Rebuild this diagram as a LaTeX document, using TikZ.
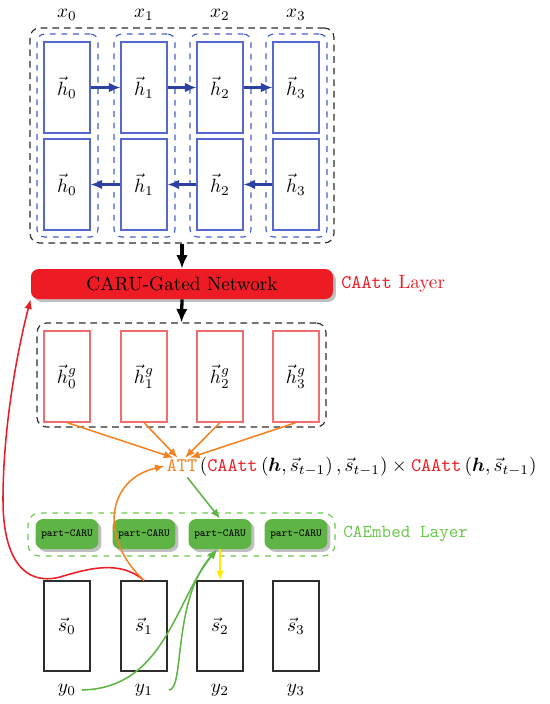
\documentclass[tikz,border=0pt]{standalone}
\usepackage{amsmath,amssymb}
\usetikzlibrary{arrows.meta,shadows}
\definecolor{cblue}{RGB}{85,105,205}
\definecolor{cbluedark}{RGB}{45,65,165}
\definecolor{cbluedash}{RGB}{70,95,205}
\definecolor{cred}{RGB}{237,28,36}
\definecolor{clred}{RGB}{240,110,110}
\definecolor{corange}{RGB}{245,130,32}
\definecolor{cgreen}{RGB}{95,180,70}
\definecolor{cgreenl}{RGB}{105,200,75}
\definecolor{cyellow}{RGB}{255,235,0}
\definecolor{cgray}{RGB}{45,45,45}
\begin{document}
\begin{tikzpicture}[x=0.52pt,y=-0.52pt,
  hbox/.style={draw=cblue, line width=0.6pt, minimum width=23.92pt, minimum height=47.32pt, inner sep=0},
  gbox/.style={draw=clred, line width=0.6pt, minimum width=23.92pt, minimum height=47.32pt, inner sep=0},
  sbox/.style={draw=cgray, line width=0.6pt, minimum width=23.92pt, minimum height=46.8pt, inner sep=0},
  coldash/.style={draw=cbluedash, dashed, rounded corners=4pt, line width=0.6pt, minimum width=31.72pt, minimum height=105.56pt, inner sep=0},
  blkdash/.style={draw=cgray, dash pattern=on 3.5pt off 2.5pt, rounded corners=5pt, line width=0.6pt, inner sep=0},
  grdash/.style={draw=cgreenl, dashed, rounded corners=6pt, line width=0.6pt, inner sep=0},
  harrow/.style={-{Latex[length=6pt,width=5pt]}, draw=cbluedark, line width=1.1pt},
  bigarrow/.style={-{Latex[length=7pt,width=6pt]}, line width=1.7pt, black},
  oarrow/.style={-{Latex[length=5pt,width=4pt]}, draw=corange, line width=0.8pt},
  garrow/.style={-{Latex[length=5pt,width=4pt]}, draw=cgreen, line width=0.8pt},
  caru/.style={fill=cred, rounded corners=4pt, minimum width=157.04pt, minimum height=15.6pt, inner sep=0,
     drop shadow={shadow xshift=1.5pt, shadow yshift=-1.5pt, fill=black!25, opacity=1}},
  pcaru/.style={fill=cgreen, rounded corners=4pt, minimum width=32.76pt, minimum height=15.6pt, inner sep=0,
     font=\fontsize{5.6pt}{7pt}\selectfont\ttfamily,
     drop shadow={shadow xshift=1.5pt, shadow yshift=-1.5pt, fill=black!25, opacity=1}},
  lbl/.style={inner sep=0}
]
\useasboundingbox (0,0) rectangle (550,704);

% encoder
\node[blkdash, minimum width=158.08pt, minimum height=111.8pt] (enc) at (182,135.5) {};
\foreach \i/\x in {0/67,1/144,2/220,3/296}{
  \node[coldash] (col\i) at (\x+0.5,135.5) {};
  \node[hbox] (hf\i) at (\x,87.5) {$\vec{h}_\i$};
  \node[hbox] (hb\i) at (\x,184.5) {$\vec{h}_\i$};
  \node[lbl] (x\i) at (\x,15) {$x_\i$};
  \node[gbox] (hg\i) at (\x,376.5) {$\vec{h}^{g}_\i$};
  \node[pcaru] (pc\i) at (\x,534) {part-CARU};
  \node[sbox] (s\i) at (\x,626) {$\vec{s}_\i$};
  \node[lbl] (y\i) at (\x,690) {$y_\i$};
}
\foreach \a/\b in {0/1,1/2,2/3}{
  \draw[harrow] (hf\a.east) -- (hf\b.west);
  \draw[harrow] (hb\b.west) -- (hb\a.east);
}

% CARU layer
\node[caru] (caru) at (182,284) {CARU-Gated Network};
\node[lbl, anchor=west, text=cred] (caattl) at (341,284) {\texttt{CAAtt} Layer};
\draw[bigarrow] (enc.south) -- (caru.north);

\node[blkdash, minimum width=150.28pt, minimum height=54.08pt] (gbox) at (181.5,375) {};
\draw[bigarrow] (caru.south) -- (gbox.north);

% attention formula
\node[inner sep=1pt, text=corange] (att) at (182,466) {\texttt{ATT}};
\node[inner sep=0, anchor=base west] (form) at (att.base east)
  {$($\textcolor{cred}{\texttt{CAAtt}}$\,(\boldsymbol{h},\vec{s}_{t-1})\,,\vec{s}_{t-1})\times{}$\textcolor{cred}{\texttt{CAAtt}}$\,(\boldsymbol{h},\vec{s}_{t-1})$};
\draw[oarrow] (hg0.south) -- ([xshift=-4.5pt]att.north);
\draw[oarrow] (hg1.south) -- ([xshift=-2.3pt]att.north);
\draw[oarrow] (hg2.south) -- ([xshift=1.6pt]att.north);
\draw[oarrow] (hg3.south) -- ([xshift=4.2pt]att.north);

% embed layer
\node[grdash, minimum width=159.64pt, minimum height=22.36pt] (emb) at (181.5,534.5) {};
\node[lbl, anchor=west, text=cgreenl, font=\fontsize{9.5pt}{11pt}\selectfont\ttfamily] (embl) at (343,534) {CAEmbed Layer};
\draw[garrow, shorten <=2pt] ([xshift=1.5pt]att.south) -- (pc2.north);
\draw[-{Latex[length=5pt,width=4pt]}, draw=cyellow, line width=0.9pt] (pc2.south) -- (s2.north);

% curves
\coordinate (pcin) at ([xshift=-1.5pt]pc2.south);
\draw[-{Latex[length=5pt,width=4pt]}, draw=cred, line width=0.8pt]
  (s1.north) .. controls (120,560) and (90,568) .. (60,577)
  .. controls (25,586) and (3,560) .. (3,500)
  .. controls (3,420) and (20,340) .. (caru.south west);
\draw[oarrow] (s1.north) .. controls (100,540) and (105,480) .. (att.west);
\draw[garrow] ([xshift=3pt]y0.east) .. controls (165,688) and (175,600) .. (pcin);
\draw[garrow] ([xshift=8pt]y1.east) .. controls (185,690) and (172,600) .. (pcin);
\end{tikzpicture}
\end{document}
